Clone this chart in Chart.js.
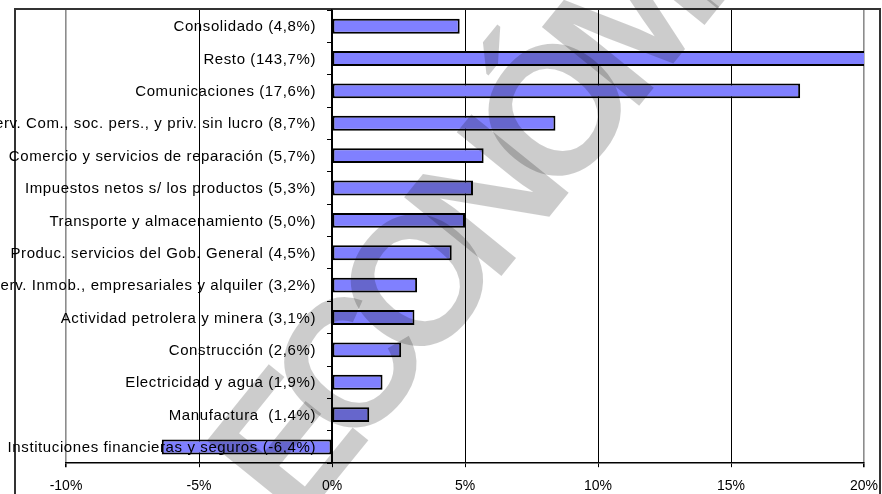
<!DOCTYPE html>
<html>
<head>
<meta charset="utf-8">
<script src="https://cdn.jsdelivr.net/npm/chart.js@4.4.0/dist/chart.umd.min.js"></script>
<style>
  html, body { margin: 0; padding: 0; background: #fff; }
  #wrap { width: 882px; height: 494px; position: relative; }
</style>
</head>
<body>
<div id="wrap"><canvas id="canvas-sectores" width="882" height="494"></canvas></div>
<script>
// sectores y variacion (%)
var sectores = [
    'Consolidado (4,8%)',
    'Resto (143,7%)',
    'Comunicaciones (17,6%)',
    'Serv. Com., soc. pers., y priv. sin lucro (8,7%)',
    'Comercio y servicios de reparación (5,7%)',
    'Impuestos netos s/ los productos (5,3%)',
    'Transporte y almacenamiento (5,0%)',
    'Produc. servicios del Gob. General (4,5%)',
    'Serv. Inmob., empresariales y alquiler (3,2%)',
    'Actividad petrolera y minera (3,1%)',
    'Construcción (2,6%)',
    'Electricidad y agua (1,9%)',
    'Manufactura  (1,4%)',
    'Instituciones financieras y seguros (-6,4%)'
];
var variacion = [4.8, 143.7, 17.6, 8.4, 5.7, 5.3, 5.0, 4.5, 3.2, 3.1, 2.6, 1.9, 1.4, -6.4];
var ejeMin = -10;
var ejeMax = 20;
var ejePaso = 5;
var marcaAgua = 'ECONÓMICO';

var FUENTE = '"Liberation Sans", Arial, sans-serif';

// marco exterior del grafico (como el objeto de Excel recortado)
var marcoPlugin = {
    id: 'marco',
    beforeDraw: function(chart) {
        var ctx = chart.ctx, area = chart.chartArea;
        ctx.save();
        ctx.strokeStyle = '#333';
        ctx.lineWidth = 2;
        ctx.beginPath();
        ctx.moveTo(15, chart.height);
        ctx.lineTo(15, area.top - 1);
        ctx.lineTo(880, area.top - 1);
        ctx.lineTo(880, chart.height);
        ctx.stroke();
        ctx.restore();
    }
};

// etiquetas de categoria dibujadas junto al eje del 0%
var etiquetasPlugin = {
    id: 'etiquetas',
    afterDatasetsDraw: function(chart) {
        var ctx = chart.ctx;
        var xs = chart.scales.x, ys = chart.scales.y;
        var x0 = xs.getPixelForValue(0);
        ctx.save();
        ctx.font = '15px ' + FUENTE;
        ctx.letterSpacing = '0.6px';
        ctx.fillStyle = '#000';
        ctx.textAlign = 'right';
        ctx.textBaseline = 'middle';
        sectores.forEach(function(s, i) {
            ctx.fillText(s, x0 - 16, ys.getPixelForValue(i) + 1);
        });
        ctx.restore();
    }
};

// marca de agua diagonal semitransparente
var marcaPlugin = {
    id: 'marcaAgua',
    afterDraw: function(chart) {
        var ctx = chart.ctx;
        var F = 182, ls = -27;
        ctx.save();
        ctx.translate(553, 108);           // centro de la "Ó"
        ctx.rotate(-51 * Math.PI / 180);
        ctx.font = 'bold ' + F + 'px ' + FUENTE;
        ctx.letterSpacing = ls + 'px';
        ctx.fillStyle = 'rgba(0,0,0,0.2)';
        ctx.textAlign = 'left';
        ctx.textBaseline = 'alphabetic';
        var antes = ctx.measureText('ECON').width; // incluye el espaciado
        var mitadO = ctx.measureText('Ó').width / 2 - ls / 2;
        ctx.fillText(marcaAgua, -(antes + mitadO), 0.36 * F);
        ctx.restore();
    }
};

function colorBorde(c) {
    var v = c.tick ? c.tick.value : null;
    return (v === ejeMin || v === ejeMax) ? '#8c8c8c' : '#000';
}

function sinRelleno(scale) {
    scale.paddingLeft = 0;
    scale.paddingRight = 0;
    scale.paddingTop = 0;
    scale.paddingBottom = 0;
}

var config = {
    type: 'bar',
    data: {
        labels: sectores,
        datasets: [{
            data: variacion,
            backgroundColor: '#8080FF',
            borderColor: '#000',
            borderWidth: 2,
            borderSkipped: false,
            categoryPercentage: 1,
            barPercentage: 0.46
        }]
    },
    options: {
        indexAxis: 'y',
        responsive: false,
        animation: false,
        layout: { padding: { left: 66, right: 18, top: 10, bottom: -12 } },
        plugins: {
            legend: { display: false },
            tooltip: { enabled: false }
        },
        scales: {
            x: {
                type: 'linear',
                min: ejeMin,
                max: ejeMax,
                afterFit: sinRelleno,
                ticks: {
                    stepSize: ejePaso,
                    color: '#000',
                    font: { family: FUENTE, size: 14 },
                    padding: 11,
                    callback: function(v) { return v + '%'; }
                },
                grid: {
                    color: colorBorde,
                    lineWidth: function(c) { return colorBorde(c) === '#000' ? 1 : 1.6; },
                    tickColor: '#000',
                    tickLength: 4
                },
                border: { display: true, color: '#000', width: 1.5 }
            },
            y: {
                type: 'category',
                position: { x: 0 },
                afterFit: sinRelleno,
                ticks: { display: false },
                grid: {
                    drawOnChartArea: false,
                    drawTicks: true,
                    tickLength: 4,
                    color: '#000',
                    offset: true
                },
                border: { display: true, color: '#000', width: 1.5 }
            }
        }
    },
    plugins: [marcoPlugin, etiquetasPlugin, marcaPlugin]
};

var grafico = new Chart(document.getElementById('canvas-sectores'), config);
</script>
</body>
</html>
